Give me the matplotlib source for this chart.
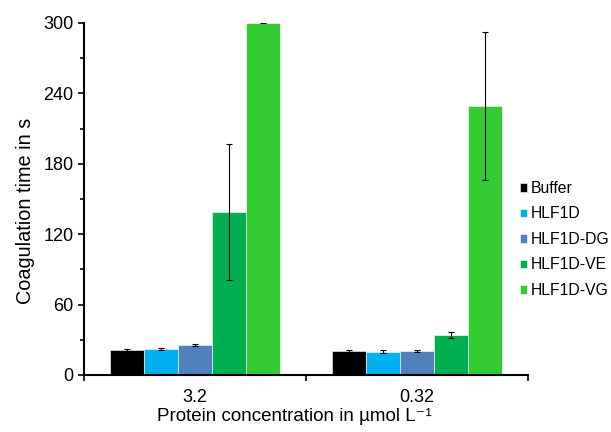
import numpy as np
import matplotlib.pyplot as plt
from matplotlib.ticker import MultipleLocator, FixedLocator

plt.rcParams['font.family'] = ['Liberation Sans', 'DejaVu Sans']

groups = ['3.2', '0.32']
series = ['Buffer', 'HLF1D', 'HLF1D-DG', 'HLF1D-VE', 'HLF1D-VG']
colors = ['#000000', '#00B0F0', '#4F81BD', '#00B050', '#33CC33']
values = [
    [21, 20.5],     # Buffer
    [22, 20],       # HLF1D
    [25.5, 20.5],   # HLF1D-DG
    [139, 34],      # HLF1D-VE
    [300, 229],     # HLF1D-VG
]
errors = [
    [1, 1],
    [0.8, 1],
    [1.2, 0.8],
    [58, 2.5],
    [0.5, 63],
]

fig = plt.figure(figsize=(6.11, 4.32), dpi=100)
ax = fig.add_axes([0.1375, 0.132, 0.7265, 0.815])

n = len(series)
w = 0.153
centers = np.arange(len(groups)) + 0.5
for i in range(n):
    x = centers + (i - (n - 1) / 2) * w
    ax.bar(x, values[i], w, color=colors[i], label=series[i],
           edgecolor='white', linewidth=0.4,
           yerr=errors[i], capsize=2.5,
           error_kw=dict(elinewidth=0.8, capthick=0.8, ecolor='black'))

ax.set_xlim(0, 2)
ax.set_ylim(0, 300)
ax.yaxis.set_major_locator(MultipleLocator(60))
ax.yaxis.set_minor_locator(MultipleLocator(30))
ax.xaxis.set_major_locator(FixedLocator([0, 1, 2]))
ax.xaxis.set_minor_locator(FixedLocator(centers))
ax.set_xticklabels(['', '', ''])
ax.set_xticklabels(groups, minor=True)
ax.tick_params(axis='x', which='minor', length=0, labelsize=13, pad=10)
ax.tick_params(axis='x', which='major', length=4, width=1.2)
ax.tick_params(axis='y', which='major', length=4, width=1.2, labelsize=13)
ax.tick_params(axis='y', which='minor', length=3, width=1.2)

for s in ['top', 'right']:
    ax.spines[s].set_visible(False)
for s in ['left', 'bottom']:
    ax.spines[s].set_linewidth(1.5)

ax.set_ylabel('Coagulation time in s', fontsize=14.3)
ax.set_xlabel('Protein concentration in \u00b5mol L\u207b\u00b9', fontsize=13.5)
ax.yaxis.set_label_coords(-0.11, 0.466)
ax.xaxis.set_label_coords(0.475, -0.095)

ax.legend(loc='center left', bbox_to_anchor=(0.95, 0.385), frameon=False,
          fontsize=11.3, handlelength=0.45, handleheight=0.45, handletextpad=0.25,
          labelspacing=0.67)

fig.savefig('out.png', dpi=100)
